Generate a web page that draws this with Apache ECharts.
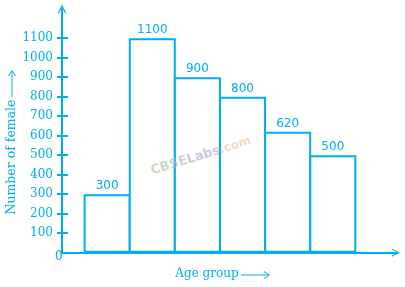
<!DOCTYPE html>
<html>
<head>
<meta charset="utf-8">
<script src="https://cdn.jsdelivr.net/npm/echarts@6/dist/echarts.min.js"></script>
<style>html,body{margin:0;padding:0;background:#fff}#c{width:405px;height:287px}</style>
</head>
<body>
<div id="c"></div>
<script>
const positions = [1, 2, 3, 4, 5, 6];
const females = [300, 1100, 900, 800, 620, 500];
const yTicks = [100, 200, 300, 400, 500, 600, 700, 800, 900, 1000, 1100];
const yTitle = 'Number of female';
const xTitle = 'Age group';

const BLUE = '#00AEEF';
const chart = echarts.init(document.getElementById('c'));
const arrowPath = 'path://M0,10 L5,0 L10,10 L8.6,10 L5,3 L1.4,10 Z';

chart.setOption({
  animation: false,
  grid: { left: 62, top: 9, right: 9, bottom: 34.3 },
  xAxis: {
    type: 'value', min: 0, max: 7.4,
    axisLine: { show: true, lineStyle: { color: BLUE, width: 2 }, symbol: ['none', arrowPath], symbolSize: [9, 8] },
    axisTick: { show: false }, axisLabel: { show: false }, splitLine: { show: false }
  },
  yAxis: [{
    type: 'value', min: 0, max: 1250,
    axisLine: { show: true, lineStyle: { color: BLUE, width: 2 }, symbol: ['none', arrowPath], symbolSize: [9, 10] },
    axisTick: { show: true, customValues: yTicks, length: 5, lineStyle: { color: BLUE, width: 2 } },
    axisLabel: { customValues: yTicks, formatter: v => String(v), color: BLUE, fontFamily: 'DejaVu Serif', fontSize: 12, margin: 9 },
    splitLine: { show: false }
  }, {
    type: 'value', min: 0, max: 1250, position: 'left',
    axisLine: { show: false },
    axisTick: { show: true, inside: true, customValues: yTicks, length: 6, lineStyle: { color: BLUE, width: 2 } },
    axisLabel: { show: false }, splitLine: { show: false }
  }],
  series: [{
    type: 'bar',
    data: positions.map((p, i) => [p, females[i]]),
    barWidth: 47,
    itemStyle: { color: '#fff', borderColor: BLUE, borderWidth: 2 },
    label: { show: true, position: 'top', distance: 2, color: BLUE, fontFamily: 'DejaVu Sans', fontSize: 12 }
  }],
  graphic: [
    { type: 'text', x: 55, y: 251, style: { text: '0', fill: BLUE, font: '12px "DejaVu Serif"' } },
    { type: 'text', x: 12, y: 157, rotation: Math.PI / 2,
      style: { text: yTitle, fill: BLUE, font: '12.5px "DejaVu Serif"', align: 'center', verticalAlign: 'middle' } },
    { type: 'line', shape: { x1: 12, y1: 97, x2: 12, y2: 71 }, style: { stroke: BLUE, lineWidth: 1 } },
    { type: 'polyline', shape: { points: [[8.5, 76], [12, 70.5], [15.5, 76]] }, style: { stroke: BLUE, lineWidth: 1, fill: null } },
    { type: 'text', x: 207, y: 274, style: { text: xTitle, fill: BLUE, font: '12px "DejaVu Serif"', align: 'center', verticalAlign: 'middle' } },
    { type: 'line', shape: { x1: 241, y1: 275, x2: 269, y2: 275 }, style: { stroke: BLUE, lineWidth: 1 } },
    { type: 'polyline', shape: { points: [[264, 271.5], [269.5, 275], [264, 278.5]] }, style: { stroke: BLUE, lineWidth: 1, fill: null } },
    { type: 'text', x: 201, y: 156, rotation: 0.3, z: 100, style: {
      text: '{a|CBSE}{b|Labs}{c|.com}', align: 'center', verticalAlign: 'middle', opacity: 0.65,
      rich: {
        a: { fill: '#a9c8a2', fontSize: 13, fontWeight: 'bold', fontFamily: 'DejaVu Sans' },
        b: { fill: '#b3a8cf', fontSize: 13, fontWeight: 'bold', fontFamily: 'DejaVu Sans' },
        c: { fill: '#efc39a', fontSize: 12, fontWeight: 'bold', fontFamily: 'DejaVu Sans' }
      } } }
  ]
});
</script>
</body>
</html>
